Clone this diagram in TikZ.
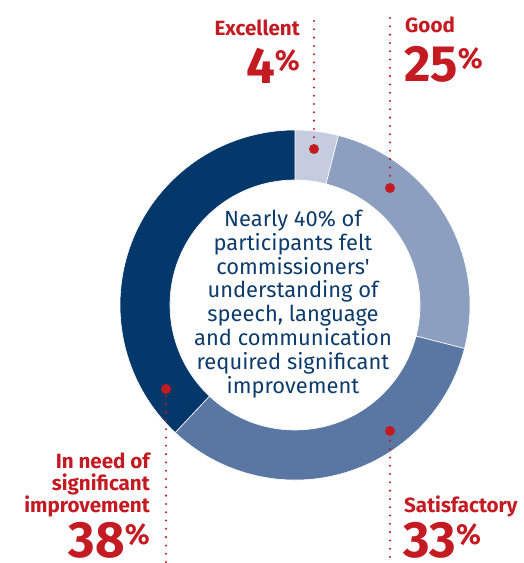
\documentclass[tikz,border=0pt]{standalone}
\usepackage{fontspec}
\setmainfont{Fira Sans}
\newfontfamily\centrefont{Fira Sans}[Ligatures=TeXOff]
\definecolor{cred}{HTML}{C41A22}
\definecolor{cnavy}{HTML}{04386B}
\definecolor{csat}{HTML}{5A76A2}
\definecolor{cgood}{HTML}{8C9FC0}
\definecolor{cexc}{HTML}{C6CCE0}
\definecolor{ctext}{HTML}{0D3C6C}
\begin{document}
\begin{tikzpicture}[x=1pt,y=-1pt,
  seg/.style={draw=white,line width=0.6pt},
  bigdot/.style={circle,fill=cred,inner sep=0pt,minimum size=10pt},
  leader/.style={cred,line width=2.3pt,line cap=round,dash pattern=on 0pt off 8.3pt},
  lab/.style={text=cred,font=\fontsize{20.6}{22}\selectfont\bfseries,inner sep=0pt},
  num/.style={text=cred,font=\fontsize{51}{51}\selectfont\bfseries,inner sep=0pt}]
\useasboundingbox (0,0) rectangle (523,563);
\newcommand{\pct}{\raisebox{12.5pt}{\fontsize{29}{29}\selectfont\%}}
\begin{scope}[shift={(295,305)},yscale=-1]
  \fill[cexc,seg] (90:175) arc[start angle=90,end angle=75.6,radius=175] -- (75.6:125) arc[start angle=75.6,end angle=90,radius=125] -- cycle;
  \fill[cgood,seg] (75.6:175) arc[start angle=75.6,end angle=-14.4,radius=175] -- (-14.4:125) arc[start angle=-14.4,end angle=75.6,radius=125] -- cycle;
  \fill[csat,seg] (-14.4:175) arc[start angle=-14.4,end angle=-133.2,radius=175] -- (-133.2:125) arc[start angle=-133.2,end angle=-14.4,radius=125] -- cycle;
  \fill[cnavy,seg] (-133.2:175) arc[start angle=-133.2,end angle=-270,radius=175] -- (-270:125) arc[start angle=-270,end angle=-133.2,radius=125] -- cycle;
\end{scope}
\node[text=ctext,align=center,inner sep=0pt,font=\centrefont\fontsize{21.9}{23.8}\selectfont] (centre) at (293,304)
  {Nearly 40\% of\\participants felt\\commissioners'\\understanding of\\speech, language\\and communication\\required significant\\improvement};
% dots and leaders
\node[bigdot] (dexc) at (314,149) {};
\node[bigdot] (dgood) at (390,188) {};
\node[bigdot] (dsat) at (390,431) {};
\node[bigdot] (dneed) at (166,389) {};
\coordinate (texc) at (314,21);
\coordinate (tgood) at (390,18);
\coordinate (tsat) at (390,557);
\coordinate (tneed) at (166,562);
\draw[leader] (texc) -- (dexc);
\draw[leader] (tgood) -- (dgood);
\draw[leader] (tsat) -- (dsat);
\draw[leader] (tneed) -- (dneed);
% labels
\node[lab,anchor=base east] (lexc) at (300,35) {Excellent};
\node[num,anchor=base east] (nexc) at (300,83) {4\pct};
\node[lab,anchor=base west] (lgood) at (405,32) {Good};
\node[num,anchor=base west] (ngood) at (404,81) {25\pct};
\node[lab,anchor=base west] (lsat) at (404,512) {Satisfactory};
\node[num,anchor=base west] (nsat) at (403,557) {33\pct};
\node[lab,align=right,anchor=east] (lneed) at (150,485) {In need of\\significant\\improvement};
\node[num,anchor=base east] (nneed) at (150,557) {38\pct};
\end{tikzpicture}
\end{document}
